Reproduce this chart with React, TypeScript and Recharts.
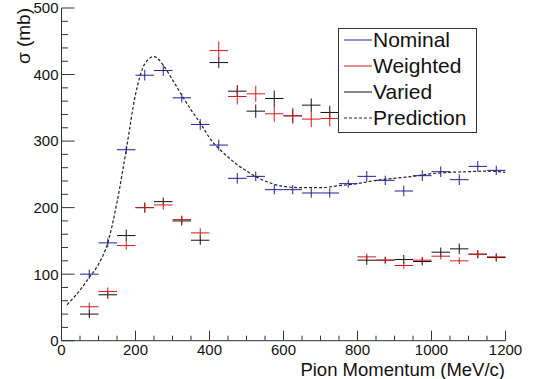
import React from 'react';
import { ComposedChart, XAxis, YAxis, Scatter, Line, ErrorBar, Label } from 'recharts';

// ---- data ----
const binCenters = [75, 125, 175, 225, 275, 325, 375, 425, 475, 525, 575, 625, 675, 725, 775, 825, 875, 925, 975, 1025, 1075, 1125, 1175];
const binHalfWidth = 25;

const nominalValues = [100, 147, 287, 399, 406, 365, 325, 294, 244, 247, 227, 227, 222, 222, 236, 247, 241, 225, 248, 254, 242, 262, 256];
const nominalErrors = [7, 7, 6, 8, 8, 7, 8, 8, 8, 7, 7, 7, 7, 7, 6, 8, 7, 8, 8, 8, 8, 8, 7];

const weightedValues = [51, 74, 143, 200, 204, 182, 162, 436, 367, 371, 341, 338, 333, 334, 330, 126, 121, 113, 121, 127, 120, 130, 126];
const weightedErrors = [6, 6, 6, 8, 7, 6, 7, 14, 12, 12, 12, 12, 12, 12, 12, 5, 5, 5, 5, 5, 5, 6, 5];

const variedValues = [40, 69, 158, 200, 209, 180, 151, 418, 375, 345, 364, 338, 354, 343, 335, 121, 121, 122, 119, 133, 138, 130, 125];
const variedErrors = [6, 6, 9, 7, 6, 7, 7, 8, 9, 10, 12, 10, 10, 10, 10, 7, 5, 7, 6, 7, 8, 6, 6];

const predictionMomentum = [15, 50, 75, 100, 125, 150, 175, 200, 225, 250, 275, 300, 325, 350, 375, 400, 450, 500, 550, 600, 650, 700, 750, 800, 850, 900, 950, 1000, 1050, 1100, 1150, 1200];
const predictionValues = [54, 76, 95, 115, 147, 208, 287, 370, 416, 427, 414, 392, 369, 347, 327, 305, 276, 255, 240, 232, 230, 230, 233, 236, 241, 244, 247, 251, 253, 254, 255, 253];

const xTicks = [0, 50, 100, 150, 200, 250, 300, 350, 400, 450, 500, 550, 600, 650, 700, 750, 800, 850, 900, 950, 1000, 1050, 1100, 1150, 1200];
const xMajorStep = 200;
const yTicks = [0, 20, 40, 60, 80, 100, 120, 140, 160, 180, 200, 220, 240, 260, 280, 300, 320, 340, 360, 380, 400, 420, 440, 460, 480, 500];
const yMajorStep = 100;

const xTitle = 'Pion Momentum (MeV/c)';
const yTitle = 'σ (mb)';

// ---- styles ----
const FONT = '"Liberation Sans", Arial, Helvetica, sans-serif';
const BLUE = '#1f1f8f';
const RED = '#d01c1c';
const BLACK = '#111111';
const FRAME = '#333333';

const makeSeries = (vals: number[], errs: number[]) =>
  binCenters.map((x, i) => ({ x, y: vals[i], xerr: binHalfWidth, yerr: errs[i] }));

const nominalData = makeSeries(nominalValues, nominalErrors);
const weightedData = makeSeries(weightedValues, weightedErrors);
const variedData = makeSeries(variedValues, variedErrors);
const predictionData = predictionMomentum.map((x, i) => ({ x, y: predictionValues[i] }));

const BottomTick = (props: any) => {
  const { x, y, payload } = props;
  const v = payload.value;
  const major = v % xMajorStep === 0;
  return (
    <g>
      <line x1={x} x2={x} y1={y} y2={y - (major ? 10 : 5)} stroke={FRAME} strokeWidth={1} />
      {major && (
        <text x={x} y={y + 14.5} textAnchor="middle" fontSize={15} fill="#111" fontFamily={FONT}>
          {v}
        </text>
      )}
    </g>
  );
};

const TopTick = (props: any) => {
  const { x, y, payload } = props;
  const major = payload.value % xMajorStep === 0;
  return <line x1={x} x2={x} y1={y} y2={y + (major ? 10 : 5)} stroke={FRAME} strokeWidth={1} />;
};

const LeftTick = (props: any) => {
  const { x, y, payload } = props;
  const v = payload.value;
  const major = v % yMajorStep === 0;
  return (
    <g>
      <line x1={x} x2={x + (major ? 13 : 6.5)} y1={y} y2={y} stroke={FRAME} strokeWidth={1} />
      {major && (
        <text x={x - 3} y={y} dy="0.36em" textAnchor="end" fontSize={15} fill="#111" fontFamily={FONT}>
          {v}
        </text>
      )}
    </g>
  );
};

const RightTick = (props: any) => {
  const { x, y, payload } = props;
  const major = payload.value % yMajorStep === 0;
  return <line x1={x} x2={x - (major ? 13 : 6.5)} y1={y} y2={y} stroke={FRAME} strokeWidth={1} />;
};

const NoShape = () => <g />;

const legendItems = [
  { name: 'Nominal', color: BLUE, dash: undefined as string | undefined },
  { name: 'Weighted', color: RED, dash: undefined },
  { name: 'Varied', color: BLACK, dash: undefined },
  { name: 'Prediction', color: '#222', dash: '3 2' },
];

const Legend = () => (
  <div
    style={{
      position: 'absolute',
      left: 338,
      top: 28,
      width: 139,
      height: 105,
      boxSizing: 'border-box',
      border: `1px solid ${FRAME}`,
      background: '#fff',
      fontFamily: FONT,
    }}
  >
    {legendItems.map((it, i) => (
      <div
        key={it.name}
        style={{ position: 'absolute', left: 0, top: 11 + i * 26 - 13, height: 26, width: 137 }}
      >
        <svg width={30} height={26} style={{ position: 'absolute', left: 4, top: 0 }}>
          <line x1={1} x2={29} y1={13} y2={13} stroke={it.color} strokeWidth={1} strokeDasharray={it.dash} />
        </svg>
        <span
          style={{ position: 'absolute', left: 34, top: 0, lineHeight: '26px', fontSize: 21, color: '#111', whiteSpace: 'nowrap' }}
        >
          {it.name}
        </span>
      </div>
    ))}
  </div>
);

export default function App() {
  return (
    <div style={{ position: 'absolute', left: 0, top: 0, width: 539, height: 379, background: '#fff' }}>
      <ComposedChart width={539} height={379} margin={{ top: 8, right: 33.5, bottom: 0, left: 0 }}>
        <XAxis
          xAxisId={0}
          dataKey="x"
          type="number"
          domain={[0, 1200]}
          ticks={xTicks}
          interval={0}
          allowDataOverflow
          height={38.3}
          tickSize={0}
          tickMargin={0}
          tickLine={false}
          axisLine={{ stroke: FRAME, strokeWidth: 1 }}
          tick={<BottomTick />}
        >
          <Label
            content={() => (
              <text x={505} y={375.5} textAnchor="end" fontSize={18.5} fill="#111" fontFamily={FONT}>
                {xTitle}
              </text>
            )}
          />
        </XAxis>
        <XAxis
          xAxisId="top"
          orientation="top"
          dataKey="x"
          type="number"
          domain={[0, 1200]}
          ticks={xTicks}
          interval={0}
          allowDataOverflow
          height={0}
          tickSize={0}
          tickMargin={0}
          tickLine={false}
          axisLine={{ stroke: FRAME, strokeWidth: 1 }}
          tick={<TopTick />}
        />
        <YAxis
          yAxisId={0}
          type="number"
          domain={[0, 500]}
          ticks={yTicks}
          interval={0}
          allowDataOverflow
          width={61.5}
          tickSize={0}
          tickMargin={0}
          tickLine={false}
          axisLine={{ stroke: FRAME, strokeWidth: 1 }}
          tick={<LeftTick />}
        >
          <Label
            content={() => (
              <text
                x={30}
                y={8}
                transform="rotate(-90, 30, 8)"
                textAnchor="end"
                fontSize={19}
                fill="#111"
                fontFamily={FONT}
              >
                {yTitle}
              </text>
            )}
          />
        </YAxis>
        <YAxis
          yAxisId="right"
          orientation="right"
          type="number"
          domain={[0, 500]}
          ticks={yTicks}
          interval={0}
          allowDataOverflow
          width={0}
          tickSize={0}
          tickMargin={0}
          tickLine={false}
          axisLine={{ stroke: FRAME, strokeWidth: 1 }}
          tick={<RightTick />}
        />

        <Line
          data={predictionData}
          dataKey="y"
          type="monotone"
          stroke="#222"
          strokeWidth={1.2}
          strokeDasharray="3 2"
          dot={false}
          isAnimationActive={false}
        />

        <Scatter data={variedData} dataKey="y" shape={NoShape} isAnimationActive={false}>
          <ErrorBar dataKey="xerr" direction="x" width={0} stroke={BLACK} strokeWidth={1} isAnimationActive={false} />
          <ErrorBar dataKey="yerr" direction="y" width={0} stroke={BLACK} strokeWidth={1} isAnimationActive={false} />
        </Scatter>
        <Scatter data={weightedData} dataKey="y" shape={NoShape} isAnimationActive={false}>
          <ErrorBar dataKey="xerr" direction="x" width={0} stroke={RED} strokeWidth={1} isAnimationActive={false} />
          <ErrorBar dataKey="yerr" direction="y" width={0} stroke={RED} strokeWidth={1} isAnimationActive={false} />
        </Scatter>
        <Scatter data={nominalData} dataKey="y" shape={NoShape} isAnimationActive={false}>
          <ErrorBar dataKey="xerr" direction="x" width={0} stroke={BLUE} strokeWidth={1} isAnimationActive={false} />
          <ErrorBar dataKey="yerr" direction="y" width={0} stroke={BLUE} strokeWidth={1} isAnimationActive={false} />
        </Scatter>
      </ComposedChart>
      <Legend />
    </div>
  );
}
